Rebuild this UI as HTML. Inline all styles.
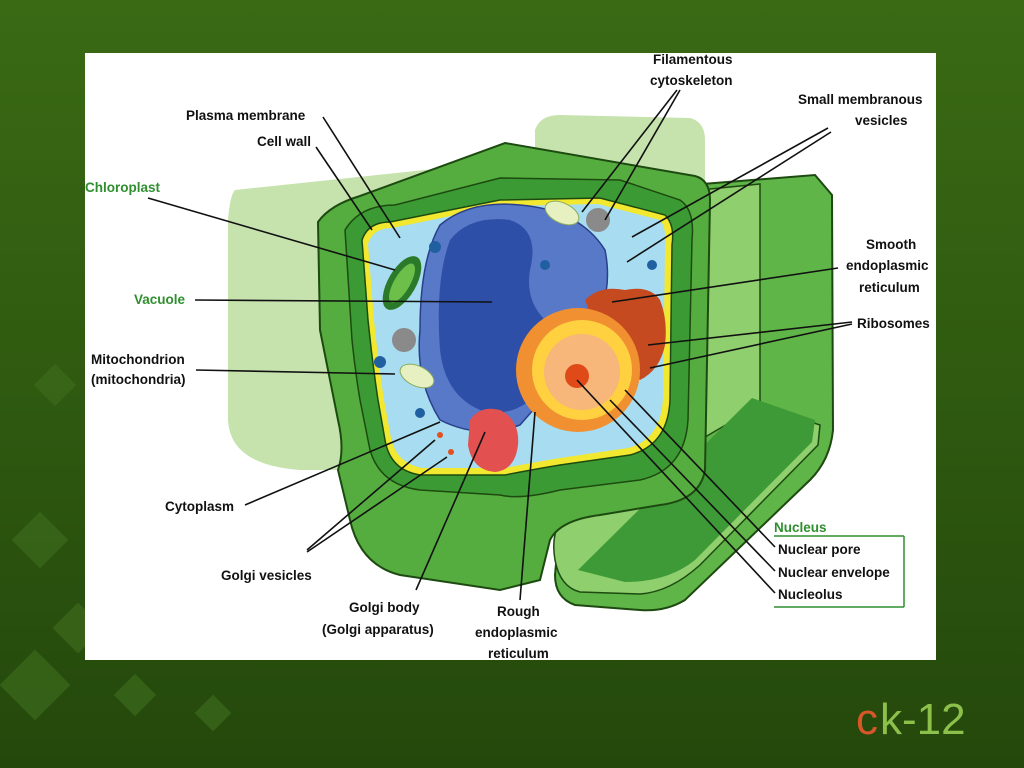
<!DOCTYPE html>
<html><head><meta charset="utf-8"><style>
html,body{margin:0;padding:0;width:1024px;height:768px;overflow:hidden;background:#2e5710;}
svg{display:block}
text{font-family:"Liberation Sans",sans-serif;font-size:13.5px;font-weight:bold;fill:#111;}
.g{fill:#2f8f2f}
</style></head><body>
<svg width="1024" height="768" viewBox="0 0 1024 768">
<defs>
<linearGradient id="bg" x1="0" y1="0" x2="0" y2="1">
<stop offset="0" stop-color="#3a6a14"/><stop offset="0.5" stop-color="#2f5a10"/><stop offset="1" stop-color="#24480c"/>
</linearGradient>
</defs>
<rect width="1024" height="768" fill="url(#bg)"/>
<g fill="#3c6a1c" opacity="0.7">
<rect x="20" y="520" width="40" height="40" transform="rotate(45 40 540)"/>
<rect x="60" y="610" width="36" height="36" transform="rotate(45 78 628)"/>
<rect x="10" y="660" width="50" height="50" transform="rotate(45 35 685)"/>
<rect x="120" y="680" width="30" height="30" transform="rotate(45 135 695)"/>
<rect x="200" y="700" width="26" height="26" transform="rotate(45 213 713)"/>
<rect x="40" y="370" width="30" height="30" transform="rotate(45 55 385)"/>
</g>
<rect x="85" y="53" width="851" height="607" fill="#fff"/>
<path d="M235,190 L520,160 L700,190 L700,470 L560,470 L300,470 Q230,465 228,420 L228,220 Q230,195 235,190Z" fill="#c6e3ae"/>
<path d="M535,130 Q540,115 560,115 L690,118 Q705,122 705,140 L705,190 L535,180Z" fill="#c6e3ae"/>
<!-- right block -->
<path d="M690,185 L815,175 L832,195 L833,430 Q830,460 810,480 L685,600 Q665,612 640,610 L575,605 Q555,598 555,575 L560,520 L700,470Z" fill="#5fb548" stroke="#1d4a10" stroke-width="2"/>
<path d="M700,190 L760,184 L760,405 L700,440Z" fill="#8fcf6e" stroke="#1d4a10" stroke-width="1.5"/>
<path d="M555,560 Q548,520 580,505 L700,465 L760,405 L820,425 L818,445 L700,565 Q670,592 640,594 L580,592 Q560,587 555,560Z" fill="#8fcf6e" stroke="#1d4a10" stroke-width="1.5"/>
<path d="M578,570 L752,398 L815,420 L812,442 L695,560 Q668,582 625,582 Z" fill="#3e9a36"/>
<!-- main green cell -->
<path d="M318,222 Q330,205 360,196 L505,143 L695,176 Q710,180 710,200 L705,470 Q700,500 660,505 L600,515 Q560,520 550,540 L540,580 L500,590 L400,575 Q360,565 350,520 L338,470 Q345,450 338,420 L320,330 Z" fill="#55ad3f" stroke="#1d4a10" stroke-width="2"/>
<path d="M345,230 Q360,205 395,205 L500,178 L620,180 L680,200 Q695,210 692,240 L688,420 Q685,470 640,480 L560,490 Q520,500 500,495 L420,490 Q380,485 370,450 L360,400 Q355,370 352,340 Z" fill="#3c9a34" stroke="#1d4a10" stroke-width="1.5"/>
<path d="M362,240 Q368,222 390,222 L500,200 L600,198 L665,215 Q675,225 672,245 L670,400 Q668,445 630,455 L560,465 Q530,470 505,475 L420,475 Q390,470 385,440 L378,400 Q372,360 368,320Z" fill="#f2e830" stroke="#1d4a10" stroke-width="1.5"/>
<path d="M368,244 Q373,228 392,228 L500,206 L598,204 L660,220 Q667,228 665,248 L663,398 Q661,440 628,448 L560,458 Q530,463 505,468 L422,468 Q396,463 391,438 L384,400 Q378,360 374,320Z" fill="#a8dcf0"/>
<path d="M440,225 Q470,200 520,205 Q580,210 605,250 Q615,300 585,340 Q560,380 520,425 Q480,440 440,420 Q415,380 420,330 Q420,260 440,225Z" fill="#5878c8" stroke="#2a3f8a" stroke-width="1.5"/>
<path d="M450,240 Q470,215 510,220 Q540,230 530,270 Q525,300 545,320 Q565,350 540,390 Q515,420 480,410 Q445,395 440,350 Q435,280 450,240Z" fill="#2e4fa8"/>
<ellipse cx="402" cy="283" rx="14" ry="30" transform="rotate(30 402 283)" fill="#2a7a2a"/>
<ellipse cx="402" cy="283" rx="8" ry="22" transform="rotate(30 402 283)" fill="#6cc04a"/>
<ellipse cx="562" cy="213" rx="18" ry="10" transform="rotate(25 562 213)" fill="#e6f0c0" stroke="#8aaa60"/>
<ellipse cx="417" cy="376" rx="18" ry="10" transform="rotate(25 417 376)" fill="#e6f0c0" stroke="#8aaa60"/>
<circle cx="598" cy="220" r="12" fill="#8a8a8a"/>
<circle cx="404" cy="340" r="12" fill="#8a8a8a"/>
<circle cx="435" cy="247" r="6" fill="#2060a0"/>
<circle cx="545" cy="265" r="5" fill="#2060a0"/>
<circle cx="380" cy="362" r="6" fill="#2060a0"/>
<circle cx="420" cy="413" r="5" fill="#2060a0"/>
<circle cx="652" cy="265" r="5" fill="#2060a0"/>
<path d="M585,300 Q600,285 625,290 Q650,285 660,300 Q668,320 665,345 Q660,370 640,380 L600,340Z" fill="#c54a20"/>
<circle cx="578" cy="370" r="62" fill="#f09030"/>
<circle cx="582" cy="370" r="50" fill="#ffd040"/>
<circle cx="582" cy="372" r="38" fill="#f7b67a"/>
<circle cx="577" cy="376" r="12" fill="#e04a18"/>
<path d="M470,420 Q480,405 500,410 Q520,420 518,445 Q515,470 495,472 Q472,470 468,445Z" fill="#e25050"/>
<circle cx="440" cy="435" r="3" fill="#e05020"/>
<circle cx="451" cy="452" r="3" fill="#e05020"/>
<g stroke="#111" stroke-width="1.6" fill="none">
<line x1="323" y1="117" x2="400" y2="238"/>
<line x1="316" y1="147" x2="372" y2="230"/>
<line x1="148" y1="198" x2="395" y2="270"/>
<line x1="195" y1="300" x2="492" y2="302"/>
<line x1="196" y1="370" x2="395" y2="374"/>
<line x1="245" y1="505" x2="440" y2="422"/>
<line x1="307" y1="550" x2="435" y2="440"/>
<line x1="307" y1="552" x2="447" y2="457"/>
<line x1="416" y1="590" x2="485" y2="432"/>
<line x1="520" y1="600" x2="535" y2="412"/>
<line x1="677" y1="90" x2="582" y2="212"/>
<line x1="680" y1="90" x2="605" y2="220"/>
<line x1="828" y1="128" x2="632" y2="237"/>
<line x1="831" y1="132" x2="627" y2="262"/>
<line x1="838" y1="268" x2="612" y2="302"/>
<line x1="852" y1="322" x2="648" y2="345"/>
<line x1="852" y1="324" x2="650" y2="368"/>
<line x1="775" y1="547" x2="625" y2="390"/>
<line x1="775" y1="571" x2="610" y2="400"/>
<line x1="775" y1="593" x2="577" y2="380"/>
</g>
<text x="186" y="120">Plasma membrane</text>
<text x="257" y="146">Cell wall</text>
<text x="85" y="192" class="g">Chloroplast</text>
<text x="134" y="304" class="g">Vacuole</text>
<text x="91" y="364">Mitochondrion</text>
<text x="91" y="384">(mitochondria)</text>
<text x="165" y="511">Cytoplasm</text>
<text x="221" y="580">Golgi vesicles</text>
<text x="349" y="612">Golgi body</text>
<text x="322" y="634">(Golgi apparatus)</text>
<text x="497" y="616">Rough</text>
<text x="475" y="637">endoplasmic</text>
<text x="488" y="658">reticulum</text>
<text x="653" y="64">Filamentous</text>
<text x="650" y="85">cytoskeleton</text>
<text x="798" y="104">Small membranous</text>
<text x="855" y="125">vesicles</text>
<text x="866" y="249">Smooth</text>
<text x="846" y="270">endoplasmic</text>
<text x="859" y="292">reticulum</text>
<text x="857" y="328">Ribosomes</text>
<text x="774" y="532" class="g">Nucleus</text>
<line x1="774" y1="536" x2="904" y2="536" stroke="#2f8f2f" stroke-width="1.5"/>
<line x1="904" y1="536" x2="904" y2="607" stroke="#2f8f2f" stroke-width="1.5"/>
<line x1="774" y1="607" x2="904" y2="607" stroke="#2f8f2f" stroke-width="1.5"/>
<text x="778" y="554">Nuclear pore</text>
<text x="778" y="577">Nuclear envelope</text>
<text x="778" y="599">Nucleolus</text>
<text x="856" y="734" style="font-size:44px;font-weight:normal;fill:#d8572a">c</text>
<text x="880" y="734" style="font-size:44px;font-weight:normal;fill:#8cc04a">k-12</text>
</svg>
</body></html>
